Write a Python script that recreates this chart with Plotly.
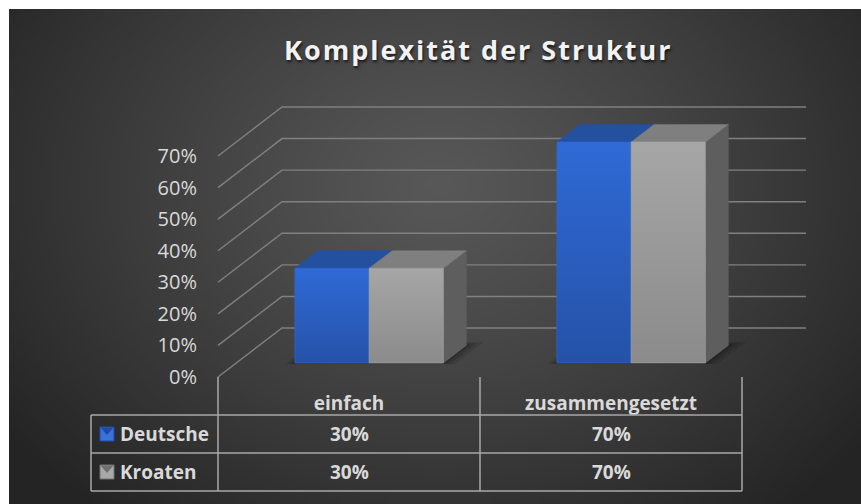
import base64, struct, zlib
import numpy as np
import plotly.graph_objects as go

# ---------------- data ----------------
categories = ["einfach", "zusammengesetzt"]
series_names = ["Deutsche", "Kroaten"]
deutsche = [30, 70]
kroaten = [30, 70]
y_ticks = [0, 10, 20, 30, 40, 50, 60, 70]
y_tick_labels = [f"{t}%" for t in y_ticks]

# ---------------- geometry / style ----------------
W, H = 861, 504
X0, PXU = 349.0, 262.0          # pixel of category 0, pixels per category
Y0, PXV = 377.0, 221.0 / 70.0   # pixel of 0 %, pixels per percent
DEPTH_PX = (64.0, 49.0)         # floor depth offset (dx right, dy up) in pixels
DU = DEPTH_PX[0] / PXU
DV = DEPTH_PX[1] / PXV

def P(u, v, d):
    return u + d * DU, v + d * DV

def px_x(p):
    return p / W

def px_y(p):
    return 1 - p / H

BAR_OFF = [-0.2765, 0.007]
BAR_W = 0.2835
D0, D1 = 0.286, 0.645

FRONT = [("#2552a8", "#2f6ad6"), ("#8b8b8b", "#a6a6a6")]
TOP = ["#2450a0", "#7f7f7f"]
SIDE = ["#1f4590", "#5e5e5e"]
GRID = "#808080"
TABLE_LINE = "#a8a8a8"
TEXT = "#d9d9d9"
FONT = "Open Sans"

fig = go.Figure()

# ---------------- background (radial gradient png) ----------------
bx0, by0, bx1, by1 = 9, 9, 861, 504
gw, gh = 213, 124
xs = bx0 + (np.arange(gw) + 0.5) * (bx1 - bx0) / gw
ys = by0 + (np.arange(gh) + 0.5) * (by1 - by0) / gh
XX, YY = np.meshgrid(xs, ys)
r = np.sqrt(((XX - 440) / 540) ** 2 + ((YY - 185) / 430) ** 2)
val = 88 - (88 - 36) * np.clip(r, 0, 1) ** 1.15
img = np.repeat(val[:, :, None], 3, axis=2).astype(np.uint8)

def to_png(a):
    h, w, _ = a.shape
    raw = b"".join(b"\x00" + a[i].tobytes() for i in range(h))
    def chunk(t, d):
        return struct.pack(">I", len(d)) + t + d + struct.pack(">I", zlib.crc32(t + d) & 0xFFFFFFFF)
    return (b"\x89PNG\r\n\x1a\n" + chunk(b"IHDR", struct.pack(">IIBBBBB", w, h, 8, 2, 0, 0, 0))
            + chunk(b"IDAT", zlib.compress(raw, 9)) + chunk(b"IEND", b""))

uri = "data:image/png;base64," + base64.b64encode(to_png(img)).decode()

# ---------------- walls (gridlines) ----------------
left_u, right_u = -0.5, len(categories) - 0.5
for t in y_ticks:
    a = P(left_u, t, 0)
    b = P(left_u, t, 1)
    c = P(right_u, t, 1)
    fig.add_trace(go.Scatter(x=[a[0], b[0], c[0]], y=[a[1], b[1], c[1]], mode="lines",
                             line=dict(color=GRID, width=1.4), hoverinfo="skip", showlegend=False))

# ---------------- bars ----------------
series = [deutsche, kroaten]
for ci in range(len(categories)):
    # soft shadow footprint (layered)
    for grow, alpha in [(0.05, 0.12), (0.03, 0.16), (0.012, 0.22)]:
        xl = ci + BAR_OFF[0] - grow * 0.6
        xr = ci + BAR_OFF[-1] + BAR_W + grow
        pts = [P(xl, 0, D0 - grow * 0.5), P(xr, 0, D0 - grow * 0.5),
               P(xr, 0, D1 + grow * 1.5), P(xl, 0, D1 + grow * 1.5)]
        fig.add_trace(go.Scatter(x=[p[0] for p in pts] + [pts[0][0]], y=[p[1] for p in pts] + [pts[0][1]],
                                 fill="toself", fillcolor=f"rgba(10,10,10,{alpha})", mode="none",
                                 hoverinfo="skip", showlegend=False))
    for si, vals in enumerate(series):
        v = vals[ci]
        xl = ci + BAR_OFF[si]
        xr = xl + BAR_W
        # side
        pts = [P(xr, 0, D0), P(xr, v, D0), P(xr, v, D1), P(xr, 0, D1)]
        fig.add_trace(go.Scatter(x=[p[0] for p in pts] + [pts[0][0]], y=[p[1] for p in pts] + [pts[0][1]],
                                 fill="toself", fillcolor=SIDE[si], mode="lines",
                                 line=dict(color=SIDE[si], width=0.5), hoverinfo="skip", showlegend=False))
        # top
        pts = [P(xl, v, D0), P(xr, v, D0), P(xr, v, D1), P(xl, v, D1)]
        fig.add_trace(go.Scatter(x=[p[0] for p in pts] + [pts[0][0]], y=[p[1] for p in pts] + [pts[0][1]],
                                 fill="toself", fillcolor=TOP[si], mode="lines",
                                 line=dict(color=TOP[si], width=0.5), hoverinfo="skip", showlegend=False))
        # front
        pts = [P(xl, 0, D0), P(xr, 0, D0), P(xr, v, D0), P(xl, v, D0)]
        fig.add_trace(go.Scatter(x=[p[0] for p in pts] + [pts[0][0]], y=[p[1] for p in pts] + [pts[0][1]],
                                 fill="toself", mode="lines", line=dict(color=FRONT[si][1], width=0.6),
                                 fillgradient=dict(type="vertical",
                                                   colorscale=[[0, FRONT[si][0]], [1, FRONT[si][1]]]),
                                 name=series_names[si], hoverinfo="skip", showlegend=False))

# ---------------- data table ----------------
shapes = []
tbl_left = px_x(91)
row_lines = [415, 453, 491]
for ry in row_lines:
    shapes.append(dict(type="line", xref="paper", yref="paper", x0=tbl_left, x1=px_x(X0 + right_u * PXU),
                       y0=px_y(ry), y1=px_y(ry), line=dict(color=TABLE_LINE, width=1.5)))
shapes.append(dict(type="line", xref="paper", yref="paper", x0=tbl_left, x1=tbl_left,
                   y0=px_y(row_lines[0]), y1=px_y(row_lines[-1]), line=dict(color=TABLE_LINE, width=1.5)))
for k in range(len(categories) + 1):
    u = left_u + k
    shapes.append(dict(type="line", xref="x", yref="paper", x0=u, x1=u,
                       y0=px_y(Y0), y1=px_y(row_lines[-1]), line=dict(color=TABLE_LINE, width=1.5)))

annotations = []
key_fill = [("#3a72dc", "#1f4ba6"), ("#a8a8a8", "#707070")]
for si, name in enumerate(series_names):
    cy = (row_lines[si] + row_lines[si + 1]) / 2
    # legend key
    shapes.append(dict(type="rect", xref="paper", yref="paper", x0=px_x(100), x1=px_x(114),
                       y0=px_y(cy + 7), y1=px_y(cy - 7), fillcolor=key_fill[si][0],
                       line=dict(color=key_fill[si][1], width=1)))
    shapes.append(dict(type="path", xref="paper", yref="paper",
                       path=f"M {px_x(100.5)},{px_y(cy - 6.5)} L {px_x(113.5)},{px_y(cy - 6.5)} L {px_x(107)},{px_y(cy + 1)} Z",
                       fillcolor=key_fill[si][1], line=dict(width=0)))
    annotations.append(dict(text=name, xref="paper", yref="paper", x=px_x(118), y=px_y(cy),
                            xanchor="left", yanchor="middle", showarrow=False,
                            font=dict(family=FONT, size=19, color=TEXT, weight="bold")))
    for ci in range(len(categories)):
        annotations.append(dict(text=f"{series[si][ci]}%", xref="x", yref="paper", x=ci, y=px_y(cy),
                                xanchor="center", yanchor="middle", showarrow=False,
                                font=dict(family=FONT, size=19, color=TEXT, weight="bold")))

# title
annotations.append(dict(text='<span style="letter-spacing:2px">Komplexität der Struktur</span>',
                        xref="paper", yref="paper", x=px_x(478), y=px_y(50), xanchor="center",
                        yanchor="middle", showarrow=False,
                        font=dict(family=FONT, size=27, color="#f2f2f2", weight="bold",
                                  shadow="1px 2px 3px rgba(0,0,0,0.7)")))

fig.update_layout(
    width=W, height=H, margin=dict(l=0, r=0, t=0, b=0),
    paper_bgcolor="white", plot_bgcolor="rgba(0,0,0,0)",
    showlegend=False,
    images=[dict(source=uri, xref="paper", yref="paper", x=px_x(bx0), y=px_y(by0),
                 sizex=(bx1 - bx0) / W, sizey=(by1 - by0) / H, sizing="stretch",
                 xanchor="left", yanchor="top", layer="below")],
    xaxis=dict(range=[(0 - X0) / PXU, (W - X0) / PXU], showgrid=False, zeroline=False, showline=False,
               tickvals=list(range(len(categories))), ticktext=categories, ticks="",
               anchor="free", position=1 - 390 / H,
               tickfont=dict(family=FONT, size=19, color=TEXT, weight="bold"), fixedrange=True),
    yaxis=dict(range=[(Y0 - H) / PXV, Y0 / PXV], showgrid=False, zeroline=False, showline=False,
               tickvals=y_ticks, ticktext=y_tick_labels, ticks="",
               anchor="free", position=px_x(197),
               tickfont=dict(family=FONT, size=20, color=TEXT), fixedrange=True),
    shapes=shapes, annotations=annotations,
)

fig.write_html("out.html")
